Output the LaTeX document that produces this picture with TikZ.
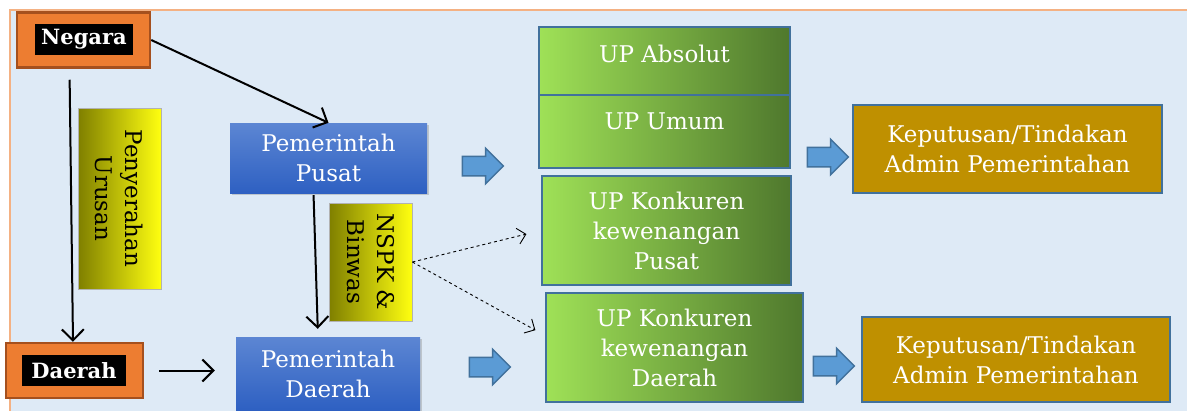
\documentclass[tikz,border=0pt]{standalone}
\usepackage{fontspec}
\setmainfont{DejaVu Serif}
\usetikzlibrary{arrows.meta,shapes.arrows,shadows}

\definecolor{bgblue}{HTML}{DEEAF6}
\definecolor{bgline}{HTML}{F4B183}
\definecolor{negfill}{HTML}{ED7D31}
\definecolor{negline}{HTML}{A5501E}
\definecolor{pemtop}{HTML}{5C86D3}
\definecolor{pembot}{HTML}{2E60C2}
\definecolor{upl}{HTML}{9FE157}
\definecolor{upm}{HTML}{86BF4A}
\definecolor{upd}{HTML}{4F782D}
\definecolor{upline}{HTML}{41719C}
\definecolor{kepfill}{HTML}{BF9000}
\definecolor{blkfill}{HTML}{5B9BD5}
\definecolor{yelleft}{HTML}{7F7F00}
\definecolor{yelmid}{HTML}{D6D60E}
\definecolor{yelright}{HTML}{FFFF10}

\begin{document}
\begin{tikzpicture}[x=1pt,y=-1pt,
    every node/.style={font=\fontsize{23}{30}\selectfont, inner sep=0pt},
    negbox/.style={fill=negfill, draw=negline, line width=2.5pt,
        minimum width=#1, minimum height=55pt},
    tagbox/.style={fill=black, text=white, font=\fontsize{21}{24}\selectfont\bfseries,
        minimum height=31pt},
    pembox/.style={top color=pemtop, bottom color=pembot, text=white, align=center,
        drop shadow={opacity=0.35, shadow xshift=2pt, shadow yshift=-2pt}},
    yelbox/.style={left color=yelleft, middle color=yelmid, right color=yelright,
        draw=gray!60, line width=0.8pt, align=center},
    upbox/.style={left color=upl, middle color=upm, right color=upd, draw=upline,
        line width=2pt, text=white, align=center},
    kepbox/.style={fill=kepfill, draw=upline, line width=2pt, text=white, align=center},
    blkarrow/.style={single arrow, fill=blkfill, draw=upline, line width=1.5pt,
        minimum height=41pt, minimum width=34pt, inner sep=9pt, single arrow head extend=8pt},
    conn/.style={line width=2pt, -{Straight Barb[length=11pt,width=22pt,line width=2pt]}},
    dconn/.style={line width=0.9pt, dashed, -{Straight Barb[length=8pt,width=16pt,line width=0.9pt]}}]

    \useasboundingbox (0,0) rectangle (1187,410);
    \clip (0,0) rectangle (1187,410);
    \filldraw[fill=bgblue, draw=bgline, line width=1.2pt] (10,10) rectangle (1200,420);

    % left column
    \node[negbox=133pt] (neg) at (83.5,40) {};
    \node[tagbox, minimum width=98pt] (negtag) at (84,39.5) {Negara};
    \node[negbox=137pt] (dae) at (74.5,370.5) {};
    \node[tagbox, minimum width=104pt] (daetag) at (74,370.5) {Daerah};
    \node[yelbox, minimum width=181pt, minimum height=83pt, rotate=-90] (serah)
        at (119.5,198.5) {Penyerahan\\Urusan};

    % pemerintah
    \node[pembox, minimum width=197pt, minimum height=70pt] (pp) at (328.5,158) {Pemerintah\\Pusat};
    \node[pembox, minimum width=184pt, minimum height=73pt] (pd) at (328,373.5) {Pemerintah\\Daerah};
    \node[yelbox, minimum width=118pt, minimum height=83pt, rotate=-90] (nspk)
        at (370.5,262) {NSPK \&\\Binwas};

    % urusan pemerintahan
    \node[upbox, minimum width=251pt, minimum height=68pt,
        label={[text=white, yshift=7pt]center:UP Absolut}] (upabs) at (664.5,61) {};
    \node[upbox, minimum width=251pt, minimum height=73pt,
        label={[text=white, yshift=10pt]center:UP Umum}] (upumum) at (664.5,131.5) {};
    \node[upbox, minimum width=249pt, minimum height=109pt] (upkp) at (666.5,230.5)
        {UP Konkuren\\kewenangan\\Pusat};
    \node[upbox, minimum width=257pt, minimum height=109pt] (upkd) at (674.5,347.5)
        {UP Konkuren\\kewenangan\\Daerah};

    % keputusan
    \node[kepbox, minimum width=309pt, minimum height=88pt] (kep1) at (1007.5,149)
        {Keputusan/Tindakan\\Admin Pemerintahan};
    \node[kepbox, minimum width=308pt, minimum height=85pt] (kep2) at (1016,359.5)
        {Keputusan/Tindakan\\Admin Pemerintahan};

    % block arrows
    \node[blkarrow] (blk1) at (478,166) {};
    \node[blkarrow] (blk2) at (485,367) {};
    \node[blkarrow] (blk3) at (823,157) {};
    \node[blkarrow] (blk4) at (829,366) {};

    % connectors
    \draw[conn] (neg.east) -- (pp.north);
    \draw[conn, shorten <=11pt] ([xshift=-14pt]neg.south) -- ([xshift=-1.5pt]dae.north);
    \draw[conn, shorten <=2pt, shorten >=8pt] ([xshift=-15pt]pp.south) -- ([xshift=-10pt]pd.north);
    \draw[conn, shorten <=15pt, shorten >=21pt] (dae.east) -- (dae.east -| pd.west);
    \draw[dconn, shorten >=15pt] (nspk.north) -- (upkp.west);
    \draw[dconn, shorten >=11pt] (nspk.north) -- ([yshift=12pt]upkd.west);
\end{tikzpicture}
\end{document}
